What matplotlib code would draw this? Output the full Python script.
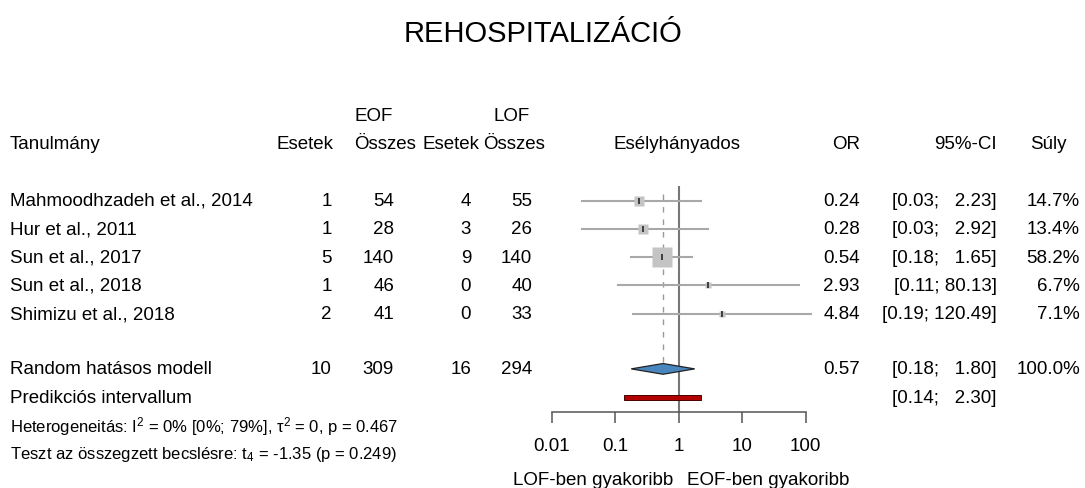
import numpy as np
import matplotlib
matplotlib.use("Agg")
import matplotlib.pyplot as plt

plt.rcParams['font.family'] = ['Liberation Sans', 'DejaVu Sans']
plt.rcParams['mathtext.fontset'] = 'custom'
plt.rcParams['mathtext.rm'] = 'Liberation Sans'
plt.rcParams['mathtext.it'] = 'Liberation Sans:italic'

# data
studies = ["Mahmoodhzadeh et al., 2014", "Hur et al., 2011", "Sun et al., 2017",
           "Sun et al., 2018", "Shimizu et al., 2018"]
eof_events = [1, 1, 5, 1, 2]
eof_total = [54, 28, 140, 46, 41]
lof_events = [4, 3, 9, 0, 0]
lof_total = [55, 26, 140, 40, 33]
odds = [0.24, 0.28, 0.54, 2.93, 4.84]
ci_low = [0.03, 0.03, 0.18, 0.11, 0.19]
ci_high = [2.23, 2.92, 1.65, 80.13, 120.49]
weights = [14.7, 13.4, 58.2, 6.7, 7.1]

pooled_label = "Random hatásos modell"
pooled_counts = [10, 309, 16, 294]
pooled_or = 0.57
pooled_ci = [0.18, 1.80]
pred_label = "Predikciós intervallum"
pred_ci = [0.14, 2.30]

ticks = [0.01, 0.1, 1, 10, 100]
tick_labels = ["0.01", "0.1", "1", "10", "100"]

W, H = 1085, 489
Y0, DY = 201.5, 28.3   # pixel row layout

fig = plt.figure(figsize=(W / 100, H / 100), dpi=100)
tax = fig.add_axes([0, 0, 1, 1])
tax.set_xlim(0, W)
tax.set_ylim((H - Y0) / DY, -Y0 / DY)
tax.axis("off")

FS = 13.5
fig.text(0.5, 1 - 34 / H, "REHOSPITALIZÁCIÓ", ha="center", va="center", fontsize=21)


def ci_text(lo, hi):
    s = f"{hi:.2f}"
    pad = max(0, 5 - len(s))
    return f"[{lo:.2f}; " + "  " * pad + s + "]"


# headers
tax.text(374, -3, "EOF", ha="center", va="center", fontsize=FS)
tax.text(512, -3, "LOF", ha="center", va="center", fontsize=FS)
tax.text(10, -2, "Tanulmány", ha="left", va="center", fontsize=FS)
tax.text(333, -2, "Esetek", ha="right", va="center", fontsize=FS)
tax.text(385, -2, "Összes", ha="center", va="center", fontsize=FS)
tax.text(451, -2, "Esetek", ha="center", va="center", fontsize=FS)
tax.text(514, -2, "Összes", ha="center", va="center", fontsize=FS)
tax.text(677, -2, "Esélyhányados", ha="center", va="center", fontsize=FS)
tax.text(860, -2, "OR", ha="right", va="center", fontsize=FS)
tax.text(997, -2, "95%-CI", ha="right", va="center", fontsize=FS)
tax.text(1030, -2, "Súly", ha="left", va="center", fontsize=FS)

cols_x = [332, 394, 471, 532]
for i, name in enumerate(studies):
    tax.text(10, i, name, ha="left", va="center", fontsize=FS)
    for x, v in zip(cols_x, [eof_events[i], eof_total[i], lof_events[i], lof_total[i]]):
        tax.text(x, i, str(v), ha="right", va="center", fontsize=FS)
    tax.text(860, i, f"{odds[i]:.2f}", ha="right", va="center", fontsize=FS)
    tax.text(997, i, ci_text(ci_low[i], ci_high[i]), ha="right", va="center", fontsize=FS)
    tax.text(1080, i, f"{weights[i]:.1f}%", ha="right", va="center", fontsize=FS)

r_pool, r_pred = 5.95, 6.95
tax.text(10, r_pool, pooled_label, ha="left", va="center", fontsize=FS)
for x, v in zip(cols_x, pooled_counts):
    tax.text(x, r_pool, str(v), ha="right", va="center", fontsize=FS)
tax.text(860, r_pool, f"{pooled_or:.2f}", ha="right", va="center", fontsize=FS)
tax.text(997, r_pool, ci_text(*pooled_ci), ha="right", va="center", fontsize=FS)
tax.text(1080, r_pool, "100.0%", ha="right", va="center", fontsize=FS)
tax.text(10, r_pred, pred_label, ha="left", va="center", fontsize=FS)
tax.text(997, r_pred, ci_text(*pred_ci), ha="right", va="center", fontsize=FS)

tax.text(10, 7.95, "Heterogeneitás: I$^2$ = 0% [0%; 79%], τ$^2$ = 0, p = 0.467",
         ha="left", va="center", fontsize=12)
tax.text(10, 8.93, "Teszt az összegzett becslésre: t$_4$ = -1.35 (p = 0.249)",
         ha="left", va="center", fontsize=12)

tax.text(673, 9.85, "LOF-ben gyakoribb", ha="right", va="center", fontsize=FS)
tax.text(687, 9.85, "EOF-ben gyakoribb", ha="left", va="center", fontsize=FS)

# forest panel
x_left, x_right = 551.5, 805.5
y_top, y_bot = 187, 413
ax = fig.add_axes([x_left / W, 1 - y_bot / H, (x_right - x_left) / W, (y_bot - y_top) / H])
ax.set_xscale("log")
ax.set_xlim(0.01, 100)
ax.set_ylim((y_bot - Y0) / DY, (y_top - Y0) / DY)
ax.patch.set_alpha(0)
for s in ["top", "left", "right"]:
    ax.spines[s].set_visible(False)
ax.spines["bottom"].set_color("#555555")
ax.spines["bottom"].set_linewidth(1.1)
ax.set_yticks([])
ax.set_xticks(ticks)
ax.set_xticklabels(tick_labels)
ax.minorticks_off()
ax.tick_params(axis="x", length=8, width=1.1, color="#555555", labelsize=FS, pad=10)

ax.axvline(1, color="#777777", lw=1.5, zorder=1)
ax.plot([pooled_or, pooled_or], [(y_top - Y0) / DY + 0.3, r_pool - 0.2], color="#999999",
        lw=1.0, ls=(0, (4, 5)), zorder=1)

for i in range(len(studies)):
    ax.plot([ci_low[i], ci_high[i]], [i, i], color="#a8a8a8", lw=1.5, zorder=2, clip_on=False)
    ms = 14.4 * np.sqrt(weights[i] / max(weights))
    ax.plot(odds[i], i, marker="s", ms=ms, color="#c4c4c4", mec="none", zorder=3)
    ax.plot(odds[i], i, marker="|", ms=4, mew=1.3, color="#333333", zorder=4)

lo, hi = pooled_ci
ax.fill([lo, pooled_or, hi, pooled_or], [r_pool, r_pool - 0.19, r_pool, r_pool + 0.19],
        facecolor="#4a86be", edgecolor="#222222", lw=0.9, zorder=3)
ax.fill([pred_ci[0], pred_ci[1], pred_ci[1], pred_ci[0]],
        [r_pred - 0.09, r_pred - 0.09, r_pred + 0.09, r_pred + 0.09],
        facecolor="#b30000", edgecolor="#4a0000", lw=0.7, zorder=3)

fig.savefig("out.png", dpi=100)
